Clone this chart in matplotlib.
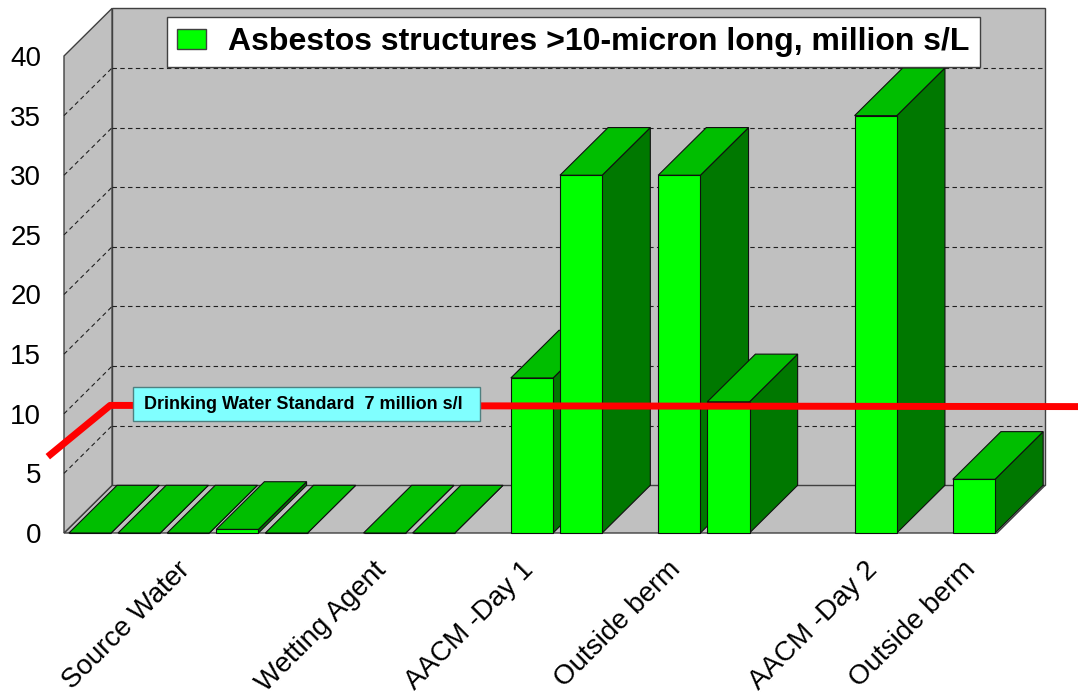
import numpy as np
import matplotlib
matplotlib.use("Agg")
import matplotlib.pyplot as plt
from matplotlib.patches import Polygon, Rectangle, Patch

plt.rcParams['font.family'] = ['Liberation Sans', 'DejaVu Sans']

# data (one slot per sample, blank label = unlabeled slot, nan = no bar)
categories = ['', '', 'Source Water', '', '', '', 'Wetting Agent', '', '',
              'AACM -Day 1', '', '', 'Outside berm', '', '', '',
              'AACM -Day 2', '', 'Outside berm']
values = [0, 0, 0, 0.3, 0, np.nan, 0, 0, np.nan,
          13, 30, np.nan, 30, 11, np.nan, np.nan,
          35, np.nan, 4.5]
yticks = [0, 5, 10, 15, 20, 25, 30, 35, 40]
series_name = 'Asbestos structures >10-micron long, million s/L'
std_label = 'Drinking Water Standard  7 million s/l'
std_x = [-0.33, 0.94, 20.7]
std_y = [6.4, 10.7, 10.6]

n = len(values)
ymax = yticks[-1]
DX, DY = 0.98, 4.0          # oblique depth offset
bar_off, bar_w = 0.1, 0.86

wall = '#C0C0C0'
edge = '#404040'
front_c, top_c, side_c = '#00FF00', '#00BE00', '#007800'

fig = plt.figure(figsize=(10.78, 6.98), dpi=100)
ax = fig.add_axes([64 / 1078, 1 - 533 / 698, 933 / 1078, 477 / 698])
ax.set_xlim(0, n)
ax.set_ylim(0, ymax)
ax.set_facecolor('none')
for s in ax.spines.values():
    s.set_visible(False)

# walls and floor
kw = dict(closed=True, fc=wall, ec=edge, lw=1, clip_on=False, zorder=0)
ax.add_patch(Polygon([(0, 0), (n, 0), (n + DX, DY), (DX, DY)], **kw))
ax.add_patch(Polygon([(0, 0), (DX, DY), (DX, ymax + DY), (0, ymax)], **kw))
ax.add_patch(Polygon([(DX, DY), (n + DX, DY), (n + DX, ymax + DY), (DX, ymax + DY)], **kw))

# dashed gridlines on back and side wall
for t in yticks[1:-1]:
    ax.plot([DX, n + DX], [t + DY, t + DY], ls=(0, (4, 3)), color='#202020',
            lw=0.8, clip_on=False, zorder=1)
    ax.plot([0, DX], [t, t + DY], ls=(0, (4, 3)), color='#202020',
            lw=0.8, clip_on=False, zorder=1)

# side and top faces, left to right
x0 = np.arange(n) + bar_off
for x, v in zip(x0, values):
    if np.isnan(v):
        continue
    side = [(x + bar_w, 0), (x + bar_w + DX, DY), (x + bar_w + DX, v + DY), (x + bar_w, v)]
    top = [(x, v), (x + bar_w, v), (x + bar_w + DX, v + DY), (x + DX, v + DY)]
    ax.add_patch(Polygon(side, closed=True, fc=side_c, ec='#101010', lw=0.8,
                         clip_on=False, zorder=3))
    ax.add_patch(Polygon(top, closed=True, fc=top_c, ec='#101010', lw=0.8,
                         clip_on=False, zorder=3))

# front faces
ax.bar(x0, values, width=bar_w, align='edge', color=front_c,
       edgecolor='#101010', lw=0.8, zorder=4, clip_on=False)

# axes ticks
ax.set_yticks(yticks)
ax.set_yticklabels([str(t) for t in yticks])
ax.tick_params(axis='y', length=0, pad=16.5, labelsize=20)
lab_idx = [i for i, c in enumerate(categories) if c]
ax.set_xticks([i + 0.3 for i in lab_idx])
ax.set_xticklabels([categories[i] for i in lab_idx], rotation=45, ha='right',
                   va='top', rotation_mode='anchor')
ax.tick_params(axis='x', length=0, pad=17, labelsize=20)

# drinking water standard line and label
ax.plot(std_x, std_y, color='#FF0000', lw=5, solid_capstyle='butt',
        clip_on=False, zorder=10)
ax.add_patch(Rectangle((1.405, 9.39), 7.07, 2.85, fc='#80FFFF', ec='#4F8080',
                       lw=1, clip_on=False, zorder=11))
ax.text(1.63, 10.4, std_label, ha='left', va='baseline', fontsize=13,
        weight='bold', zorder=12)

# legend
leg = ax.legend(handles=[Patch(fc=front_c, ec=edge)], labels=[series_name],
                loc='upper left', bbox_to_anchor=(167 / 1078, 1 - 17 / 698),
                bbox_transform=fig.transFigure, prop=dict(weight='bold', size=23),
                frameon=True, fancybox=False, framealpha=1, edgecolor=edge,
                borderpad=0.32, handlelength=0.9, handleheight=0.6,
                handletextpad=0.7, borderaxespad=0)
leg.get_frame().set_linewidth(1)
leg.set_zorder(20)

fig.savefig('out.png', dpi=100)
